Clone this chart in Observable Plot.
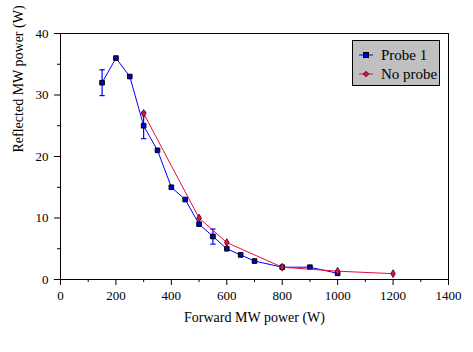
<!DOCTYPE html>
<html><head><meta charset="utf-8">
<script src="https://cdn.jsdelivr.net/npm/d3@7"></script>
<script src="https://cdn.jsdelivr.net/npm/@observablehq/plot@0.6"></script>
<style>
body{margin:0;background:#fff;}
#wrap{position:relative;width:473px;height:352px;font-family:'Liberation Serif',serif;}
#wrap svg text{font-family:'Liberation Serif',serif;}
#legend{position:absolute;left:352px;top:40px;width:86px;height:44px;background:#c0c0c0;border:1px solid #000;box-sizing:content-box;font-size:15px;color:#000;font-family:'Liberation Serif',serif;}
#legend .row{position:absolute;left:6px;height:18px;display:flex;align-items:center;}
#legend svg{margin-right:8px;}
</style></head>
<body><div id="wrap"></div>
<script>
const probeX = [150,200,250,300,350,400,450,500,550,600,650,700,800,900,1000];
const probeY = [32,36,33,25,21,15,13,9,7,5,4,3,2,2,1];
const errX = [150,300,550];
const errLow = [29.9,22.9,5.75];
const errHigh = [34.1,27.2,8.2];
const noProbeX = [300,500,600,800,1000,1200];
const noProbeY = [27,10,6,2,1.35,0.95];
const xMajor = [0,200,400,600,800,1000,1200,1400];
const xMinor = [100,300,500,700,900,1100,1300];
const yMajor = [0,10,20,30,40];
const yMinor = [5,15,25,35];
const seriesNames = ["Probe 1","No probe"];
const blue = "#0000ff", red = "#e0103c";

const probe = probeX.map((x,i)=>({x, y: probeY[i]}));
const noProbe = noProbeX.map((x,i)=>({x, y: noProbeY[i]}));
const errs = errX.map((x,i)=>({x, lo: errLow[i], hi: errHigh[i]}));

const capSymbol = {draw(ctx, size){ const w = Math.sqrt(size)/2; ctx.moveTo(-w,0); ctx.lineTo(w,0); }};
const fmt = d => String(d);

const chart = Plot.plot({
  width: 473, height: 352,
  marginLeft: 60, marginRight: 25, marginTop: 33, marginBottom: 73,
  style: {fontSize: "13px", color: "#000", background: "transparent"},
  x: {domain: [0,1400]},
  y: {domain: [0,40]},
  marks: [
    Plot.frame({stroke: "#000"}),
    Plot.axisX({ticks: xMajor, tickSize: 6, tickPadding: 5, tickFormat: fmt, label: null, fontSize: 13}),
    Plot.axisX({ticks: xMinor, tickSize: 3, tickFormat: () => "", label: null}),
    Plot.axisY({ticks: yMajor, tickSize: 6, tickPadding: 6, tickFormat: fmt, label: null, fontSize: 13}),
    Plot.axisY({ticks: yMinor, tickSize: 3, tickFormat: () => "", label: null}),
    Plot.text(["Forward MW power (W)"], {frameAnchor: "bottom", dy: 42, text: d => d, fontSize: 14}),
    Plot.text(["Reflected MW power (W)"], {frameAnchor: "left", dx: -42, dy: -4, rotate: -90, text: d => d, fontSize: 14}),
    Plot.ruleX(errs, {x: "x", y1: "lo", y2: "hi", stroke: blue, strokeWidth: 1.2}),
    Plot.dot(errs, {x: "x", y: "lo", symbol: capSymbol, r: 3, stroke: blue, strokeWidth: 1.2}),
    Plot.dot(errs, {x: "x", y: "hi", symbol: capSymbol, r: 3, stroke: blue, strokeWidth: 1.2}),
    Plot.line(probe, {x: "x", y: "y", stroke: blue, strokeWidth: 1}),
    Plot.dot(probe, {x: "x", y: "y", symbol: "square", r: 2.6, fill: "#0000d0", stroke: "#000", strokeWidth: 1}),
    Plot.line(noProbe, {x: "x", y: "y", stroke: red, strokeWidth: 1}),
    Plot.dot(noProbe, {x: "x", y: "y", symbol: "diamond", r: 2.4, fill: red, stroke: "#400010", strokeWidth: 0.8})
  ]
});
chart.style.position = "absolute";
chart.style.left = "0"; chart.style.top = "0";
chart.style.fontFamily = "'Liberation Serif', serif";
chart.setAttribute("font-family", "Liberation Serif, serif");
const wrap = document.getElementById("wrap");
wrap.appendChild(chart);

const leg = document.createElement("div");
leg.id = "legend";
const swatches = [
  `<svg width="14" height="8"><line x1="0" y1="4" x2="14" y2="4" stroke="${blue}"/><rect x="4.5" y="1.5" width="5" height="5" fill="#0000d0" stroke="#000"/></svg>`,
  `<svg width="14" height="8"><line x1="0" y1="4" x2="14" y2="4" stroke="${red}"/><path d="M7,1.2L9.8,4L7,6.8L4.2,4Z" fill="${red}" stroke="#400010" stroke-width="0.8"/></svg>`
];
seriesNames.forEach((n,i)=>{
  const r = document.createElement("div");
  r.className = "row";
  r.style.top = (5 + i*19) + "px";
  r.innerHTML = swatches[i] + `<span>${n}</span>`;
  leg.appendChild(r);
});
wrap.appendChild(leg);
</script></body></html>
